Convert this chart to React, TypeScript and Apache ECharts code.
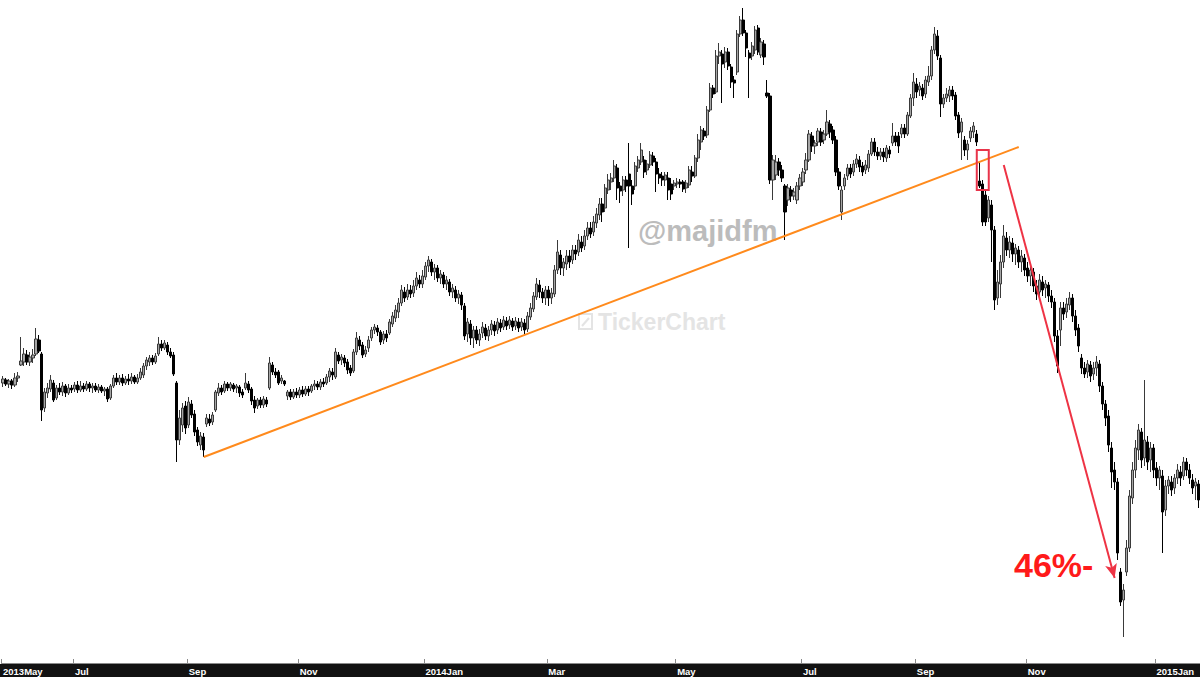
import React, { useEffect, useRef } from "react";
import * as echarts from "echarts";

// Daily candles [open, close, low, high], grouped by the two-month blocks of the time axis
const may2013 = [
  [70.7, 71.1, 70.3, 71.4], [71.0, 70.6, 70.4, 71.2], [70.6, 70.9, 70.2, 71.1], [70.9, 70.5, 70.1, 71.1],
  [70.5, 71.2, 70.3, 71.7], [71.2, 71.4, 70.8, 71.8], [72.5, 72.9, 72.4, 75.3], [72.8, 73.6, 72.4, 74.2],
  [73.5, 72.8, 72.5, 74.0], [72.8, 73.3, 72.4, 73.8], [73.2, 73.5, 72.7, 74.1], [73.6, 75.1, 73.4, 76.2],
  [75.0, 73.9, 73.7, 75.5], [73.6, 68.0, 66.9, 73.8], [68.2, 69.8, 67.8, 70.2], [69.7, 70.2, 69.2, 70.7],
  [70.1, 71.0, 69.8, 71.5], [70.7, 69.0, 68.8, 71.0], [69.2, 70.2, 69.0, 70.5], [70.2, 69.8, 69.5, 70.7],
  [69.8, 70.4, 69.4, 70.8], [70.4, 69.7, 69.3, 70.6], [69.7, 70.2, 69.5, 70.6], [70.2, 70.0, 69.7, 70.5],
];
const jul2013 = [
  [70.1, 70.5, 69.8, 70.8], [70.5, 70.0, 69.7, 70.9], [70.0, 70.4, 69.8, 70.9], [70.4, 70.1, 69.8, 70.7],
  [70.1, 70.6, 69.9, 70.9], [70.6, 70.2, 69.8, 70.8], [70.2, 70.4, 69.7, 70.7], [70.4, 70.0, 69.8, 70.7],
  [70.0, 70.3, 69.7, 70.6], [70.3, 69.9, 69.7, 70.5], [69.9, 70.1, 69.4, 70.3], [70.1, 69.1, 68.8, 70.3],
  [69.2, 70.4, 69.0, 70.6], [70.4, 71.2, 70.2, 71.5], [71.2, 70.8, 70.5, 71.7], [70.8, 71.2, 70.5, 71.5],
  [71.2, 70.7, 70.4, 71.6], [70.7, 71.1, 70.5, 71.4], [71.1, 70.9, 70.5, 71.6], [70.9, 71.3, 70.6, 71.7],
  [71.3, 70.8, 70.6, 71.5], [70.8, 71.2, 70.6, 71.6], [71.2, 71.8, 71.0, 72.2], [71.5, 72.4, 71.2, 72.7],
  [72.4, 73.0, 72.0, 73.3], [72.8, 73.2, 72.4, 73.5], [73.2, 72.8, 72.5, 73.5], [72.8, 73.4, 72.6, 73.7],
  [73.6, 74.6, 73.4, 75.3], [74.6, 74.2, 73.9, 75.0], [74.2, 74.7, 74.0, 75.0], [74.5, 73.8, 73.5, 74.8],
  [73.8, 73.4, 73.2, 74.2], [73.5, 71.6, 71.4, 73.8], [70.7, 65.0, 62.8, 70.9], [65.0, 67.2, 64.5, 68.0],
  [66.5, 68.2, 65.8, 68.7], [68.4, 66.2, 65.6, 68.9],
];
const sep2013 = [
  [66.5, 68.8, 66.2, 69.3], [68.6, 67.5, 67.2, 69.0], [67.6, 65.8, 65.4, 68.0], [66.0, 64.8, 64.4, 66.3],
  [64.5, 65.4, 64.0, 65.8], [65.3, 64.0, 63.3, 65.7], [66.6, 67.2, 66.3, 67.6], [67.1, 66.7, 66.4, 67.6],
  [66.8, 67.5, 66.5, 67.8], [68.0, 69.8, 67.8, 70.0], [69.7, 70.2, 69.4, 70.7], [70.2, 69.8, 69.5, 70.5],
  [69.9, 70.6, 69.7, 70.9], [70.6, 70.2, 69.9, 70.8], [70.2, 70.6, 69.9, 70.8], [70.5, 70.1, 69.8, 70.7],
  [70.2, 70.4, 69.7, 70.6], [70.3, 69.7, 69.3, 70.5], [69.8, 69.5, 69.2, 70.1], [70.2, 70.7, 70.0, 71.7],
  [70.6, 70.0, 69.7, 70.9], [70.1, 68.9, 68.5, 70.3], [69.0, 68.2, 67.7, 69.4], [68.4, 69.0, 68.1, 69.2],
  [69.0, 68.5, 68.2, 69.3], [68.5, 69.1, 68.2, 69.4], [69.0, 68.6, 68.3, 69.3], [70.2, 72.7, 70.0, 73.3],
  [72.5, 71.8, 71.5, 72.8], [71.8, 71.5, 71.2, 72.2], [71.8, 70.7, 70.5, 72.0], [70.9, 71.2, 70.6, 71.5],
  [70.9, 70.6, 70.4, 71.0], [69.4, 69.8, 69.0, 70.0], [69.8, 69.3, 69.0, 70.1], [69.3, 69.8, 69.1, 70.1],
  [69.8, 69.5, 69.2, 70.2],
];
const nov2013 = [
  [69.5, 70.0, 69.2, 70.3], [70.0, 69.6, 69.3, 70.4], [69.6, 70.1, 69.4, 70.4], [70.1, 69.8, 69.4, 70.4],
  [69.9, 70.4, 69.7, 70.6], [70.4, 70.6, 70.0, 71.0], [70.6, 70.3, 70.0, 70.9], [70.3, 70.8, 70.0, 71.1],
  [70.8, 70.6, 70.3, 71.2], [70.7, 71.3, 70.5, 71.6], [71.3, 71.9, 70.8, 72.2], [71.8, 71.5, 71.0, 72.2],
  [71.3, 73.8, 71.1, 74.2], [73.5, 72.9, 72.6, 73.8], [73.0, 73.3, 72.5, 73.6], [73.2, 72.7, 72.3, 73.5],
  [72.8, 72.0, 71.6, 73.1], [72.2, 71.7, 71.4, 72.5], [71.9, 73.8, 71.7, 74.1], [73.8, 75.2, 73.5, 75.8],
  [75.0, 74.4, 74.0, 75.4], [74.5, 73.5, 73.2, 74.8], [73.6, 74.0, 73.3, 74.4], [74.2, 75.0, 73.8, 75.4],
  [75.2, 76.0, 74.9, 76.3], [76.0, 76.3, 75.6, 76.6], [76.2, 75.8, 75.4, 76.5], [75.8, 74.8, 74.5, 76.0],
  [75.0, 75.6, 74.6, 75.9], [75.6, 75.2, 74.8, 76.0], [75.7, 76.8, 75.5, 77.1], [76.6, 77.4, 76.3, 77.8],
  [77.2, 78.0, 76.8, 78.5], [77.8, 78.7, 77.2, 79.2], [78.7, 80.0, 78.4, 80.5], [79.8, 79.2, 78.8, 80.3],
  [79.3, 80.0, 79.0, 80.6], [80.0, 79.6, 79.2, 80.5], [79.7, 80.4, 79.3, 81.0], [80.4, 81.2, 80.0, 81.8],
  [81.0, 80.6, 80.2, 81.5], [80.6, 81.4, 80.2, 82.0],
];
const jan2014 = [
  [81.3, 82.4, 81.0, 82.8], [82.4, 83.0, 81.8, 83.4], [82.8, 81.8, 81.4, 83.1], [81.8, 82.2, 81.0, 82.6],
  [82.2, 81.2, 80.8, 82.5], [81.2, 81.6, 80.6, 82.0], [81.5, 80.6, 80.2, 81.8], [80.6, 81.0, 80.0, 81.4],
  [80.8, 79.8, 79.4, 81.1], [79.8, 80.2, 79.2, 80.6], [80.0, 79.2, 78.8, 80.4], [79.2, 79.6, 78.6, 80.0],
  [79.5, 78.5, 78.0, 79.8], [78.4, 75.4, 75.0, 78.7], [75.6, 76.8, 74.8, 77.2], [76.6, 75.2, 74.5, 77.0],
  [75.2, 76.0, 74.2, 76.4], [76.0, 75.0, 74.6, 76.4], [75.0, 75.6, 74.4, 76.1], [75.7, 76.3, 75.2, 76.8],
  [76.2, 75.4, 75.0, 76.6], [75.4, 76.0, 74.9, 76.4], [76.0, 76.6, 75.5, 77.0], [76.5, 75.9, 75.4, 76.9],
  [76.0, 76.8, 75.6, 77.2], [76.7, 76.2, 75.8, 77.1], [76.3, 77.0, 76.0, 77.4], [76.9, 76.4, 76.0, 77.3],
  [76.5, 77.0, 76.1, 77.4], [76.9, 76.3, 75.9, 77.2], [76.4, 76.9, 76.0, 77.3], [76.8, 76.2, 75.8, 77.2],
  [76.3, 76.8, 75.9, 77.2], [76.7, 76.0, 75.6, 77.1], [76.1, 77.4, 75.8, 77.8], [77.3, 78.2, 77.0, 78.7],
  [78.1, 79.4, 77.8, 79.8], [79.3, 80.6, 79.0, 81.2], [80.5, 79.8, 79.2, 81.0], [79.8, 79.2, 78.7, 80.2],
  [79.2, 80.0, 78.5, 80.4],
];
const mar2014 = [
  [80.0, 79.2, 78.4, 80.4], [79.2, 79.7, 78.6, 80.2], [79.6, 82.0, 79.3, 82.5], [82.0, 83.8, 81.6, 85.0],
  [83.5, 82.2, 81.5, 84.0], [82.2, 82.8, 81.4, 83.2], [82.6, 83.4, 82.0, 84.0], [83.4, 82.8, 82.2, 84.0],
  [83.0, 84.0, 82.6, 84.5], [84.0, 83.6, 83.0, 84.5], [83.8, 85.0, 83.4, 85.6], [84.8, 84.2, 83.8, 85.4],
  [84.4, 85.4, 84.0, 86.0], [85.4, 86.2, 85.0, 86.8], [86.2, 85.6, 85.2, 86.8], [85.8, 86.8, 85.4, 87.4],
  [86.7, 87.6, 86.2, 88.2], [87.5, 88.6, 87.0, 89.2], [88.6, 87.8, 86.8, 89.2], [88.2, 90.2, 87.8, 90.6],
  [90.0, 91.0, 89.6, 91.6], [90.8, 91.2, 90.0, 91.7], [91.2, 92.4, 90.8, 93.0], [92.2, 90.2, 89.0, 92.6],
  [90.4, 89.9, 88.7, 90.8], [90.0, 91.0, 89.4, 91.4], [91.0, 90.4, 89.8, 91.4], [91.6, 90.4, 84.2, 94.7],
  [90.4, 89.6, 88.5, 91.0], [90.4, 92.4, 90.0, 92.8], [92.2, 93.0, 91.8, 93.4], [92.8, 94.0, 92.5, 94.7],
  [93.0, 91.8, 91.2, 93.4], [92.0, 92.6, 91.5, 93.0], [92.5, 93.5, 92.2, 93.9], [93.4, 92.8, 92.4, 93.8],
  [92.8, 91.6, 89.8, 93.2], [91.6, 91.2, 90.6, 92.2], [91.4, 91.0, 90.4, 91.8], [91.0, 91.5, 90.4, 91.8],
  [91.2, 90.0, 89.0, 91.8], [90.6, 89.6, 89.0, 91.2], [90.4, 90.7, 90.0, 91.0],
];
const may2014 = [
  [90.6, 90.8, 90.2, 91.2], [90.8, 90.6, 90.2, 91.1], [90.8, 90.1, 89.8, 91.0], [90.2, 90.7, 89.7, 91.0],
  [90.5, 92.0, 90.2, 92.4], [91.8, 91.4, 90.8, 92.4], [91.4, 93.2, 91.2, 93.5], [93.2, 95.0, 92.8, 95.6],
  [94.8, 96.0, 94.0, 96.4], [95.9, 95.4, 95.0, 96.2], [95.5, 98.0, 95.2, 98.4], [98.0, 100.2, 97.8, 100.7],
  [100.2, 99.6, 99.2, 100.5], [99.8, 103.4, 99.6, 104.0], [103.4, 103.8, 102.6, 104.7], [103.6, 102.6, 98.7, 104.0],
  [102.8, 103.8, 102.2, 104.3], [103.8, 102.4, 102.0, 104.2], [102.3, 100.8, 100.2, 102.6], [101.0, 100.7, 99.2, 101.4],
  [101.8, 105.6, 101.5, 106.0], [105.6, 107.0, 105.3, 107.4], [107.0, 105.7, 105.4, 108.2], [105.7, 104.2, 103.3, 106.0],
  [103.7, 103.2, 99.2, 104.0], [103.4, 104.4, 103.0, 104.8], [104.0, 106.0, 103.6, 106.4], [106.2, 103.8, 103.5, 106.5],
  [103.5, 104.8, 103.2, 105.2], [104.6, 103.3, 102.5, 105.0], [99.7, 99.4, 99.2, 101.0], [99.4, 91.0, 90.6, 99.7],
  [91.0, 93.0, 89.0, 93.5], [91.5, 92.8, 91.0, 93.5], [92.8, 92.0, 91.4, 93.2], [92.0, 91.2, 90.8, 92.5],
  [90.4, 87.8, 85.0, 90.6], [89.0, 90.2, 88.4, 90.6], [90.0, 89.4, 88.8, 90.4], [89.4, 89.8, 89.0, 90.2],
  [89.0, 90.4, 88.6, 90.8], [90.4, 91.2, 90.0, 91.6],
];
const jul2014 = [
  [90.8, 91.8, 90.4, 92.2], [92.0, 93.0, 91.6, 93.7], [93.0, 95.6, 92.8, 96.0], [95.4, 94.4, 93.8, 95.8],
  [94.4, 94.7, 93.6, 95.0], [94.8, 95.9, 94.4, 96.2], [95.8, 94.8, 94.4, 96.2], [95.0, 95.6, 94.6, 96.0],
  [95.6, 96.8, 95.4, 98.0], [96.6, 95.8, 95.2, 97.0], [96.0, 95.0, 94.6, 96.4], [95.0, 91.8, 91.4, 95.4],
  [91.8, 90.4, 90.0, 92.2], [87.8, 90.0, 87.0, 90.4], [90.4, 91.2, 90.0, 91.6], [91.4, 92.2, 91.0, 92.6],
  [92.2, 91.6, 91.2, 92.6], [91.8, 92.6, 91.4, 93.0], [92.6, 93.1, 92.2, 93.6], [93.0, 92.3, 91.8, 93.4],
  [92.4, 91.8, 91.4, 92.8], [92.0, 92.5, 91.6, 93.0], [92.2, 93.6, 91.8, 94.0], [93.6, 94.8, 93.4, 95.2],
  [94.8, 93.8, 93.4, 95.2], [93.8, 93.4, 93.0, 94.3], [93.4, 93.8, 93.0, 94.2], [93.8, 93.3, 92.8, 94.2],
  [93.2, 94.2, 92.8, 94.5], [94.0, 93.6, 93.2, 94.4], [94.7, 95.4, 94.4, 96.7], [95.4, 94.8, 94.4, 95.8],
  [95.4, 94.4, 93.7, 95.8], [95.6, 96.2, 95.2, 96.6], [96.2, 95.6, 95.2, 96.6], [95.6, 97.5, 95.4, 97.8],
  [97.4, 99.2, 97.2, 99.6], [99.2, 100.8, 98.4, 101.7],
];
const sep2014 = [
  [100.6, 99.8, 99.2, 101.2], [100.0, 100.4, 99.4, 100.8], [100.2, 99.4, 99.0, 100.6], [99.6, 101.0, 99.2, 101.4],
  [100.8, 101.4, 100.4, 102.4], [101.4, 104.0, 101.0, 104.4], [104.0, 105.6, 103.6, 106.3], [105.4, 103.4, 103.0, 106.0],
  [103.2, 98.6, 97.3, 103.5], [98.6, 99.2, 98.2, 99.6], [99.2, 99.6, 98.8, 100.2], [99.4, 100.0, 98.8, 100.4],
  [100.0, 99.4, 99.0, 100.4], [99.5, 97.4, 97.0, 99.8], [97.5, 95.7, 95.2, 97.8], [95.8, 96.8, 93.0, 97.2],
  [95.0, 94.0, 93.4, 95.4], [94.0, 94.6, 93.0, 95.0], [95.2, 95.9, 94.8, 96.3], [95.8, 96.4, 95.2, 96.8],
  [95.6, 94.8, 94.4, 96.0], [90.9, 90.4, 90.2, 92.8], [90.6, 86.8, 86.4, 91.0], [89.5, 86.8, 86.4, 90.0],
  [87.2, 89.0, 86.8, 89.4], [88.5, 86.0, 82.8, 89.0], [86.0, 79.0, 78.0, 86.4], [79.2, 80.8, 78.5, 82.0],
  [80.6, 82.8, 79.2, 83.5], [82.8, 85.4, 82.2, 86.5], [85.2, 84.0, 83.4, 85.8], [84.0, 84.8, 83.2, 85.4],
  [84.7, 83.6, 82.8, 85.2], [83.6, 84.2, 82.5, 84.6], [84.0, 82.8, 82.2, 84.4], [82.8, 83.4, 81.8, 84.0],
  [83.2, 82.0, 81.4, 83.6],
];
const nov2014 = [
  [82.2, 81.4, 80.8, 82.8], [81.4, 82.0, 80.4, 82.4], [81.8, 80.4, 79.8, 82.2], [80.4, 79.6, 79.0, 81.0],
  [79.8, 81.0, 79.2, 81.6], [80.8, 80.0, 79.4, 81.4], [80.2, 80.6, 79.2, 81.0], [80.5, 79.4, 78.8, 80.8],
  [79.4, 78.8, 78.2, 80.0], [78.8, 75.4, 74.8, 79.2], [75.4, 72.4, 71.7, 76.0], [76.0, 78.2, 74.4, 78.8],
  [78.2, 77.6, 77.0, 78.8], [77.8, 78.6, 77.2, 79.2], [78.5, 79.2, 78.0, 79.8], [79.2, 77.4, 76.8, 79.6],
  [77.4, 76.0, 75.4, 78.0], [76.2, 74.4, 73.8, 76.6], [73.2, 72.2, 71.6, 73.6], [72.2, 71.6, 71.2, 72.8],
  [71.8, 72.6, 71.2, 73.0], [72.5, 71.4, 70.8, 72.9], [71.6, 72.2, 71.0, 72.8], [72.2, 72.8, 71.4, 73.4],
  [72.6, 70.4, 69.8, 73.0], [70.4, 68.6, 68.0, 70.8], [68.6, 67.2, 66.4, 69.0], [67.4, 64.5, 63.8, 68.0],
  [64.2, 61.8, 60.2, 64.8], [62.0, 60.8, 60.0, 62.8], [60.8, 53.7, 53.0, 61.2], [51.8, 48.8, 48.4, 52.2],
  [49.0, 50.0, 45.3, 50.6], [51.8, 54.2, 51.4, 55.0], [54.2, 59.4, 53.8, 60.0], [59.2, 62.0, 58.6, 62.8],
  [62.0, 64.2, 61.2, 65.0], [64.0, 66.0, 63.0, 66.6], [65.8, 63.0, 62.2, 66.2], [63.2, 65.0, 62.4, 71.0],
  [64.8, 62.8, 62.0, 65.4], [63.0, 64.2, 61.8, 64.8], [64.2, 62.0, 61.2, 64.6],
];
const jan2015 = [
  [62.2, 61.2, 60.4, 62.8], [61.2, 62.0, 60.0, 62.4], [61.4, 57.8, 53.7, 62.0], [58.0, 60.4, 57.4, 61.0],
  [60.4, 61.0, 59.6, 61.4], [60.8, 60.0, 59.4, 61.4], [60.2, 61.2, 59.6, 61.6], [61.2, 62.0, 60.6, 62.6],
  [61.8, 61.2, 60.4, 62.4], [61.4, 62.8, 61.0, 63.3], [62.8, 62.0, 61.4, 63.2], [62.0, 61.2, 60.6, 62.6],
  [61.0, 60.2, 59.6, 61.6], [60.4, 60.8, 59.0, 61.2], [60.6, 59.0, 58.2, 61.0],
];

const segments = [may2013, jul2013, sep2013, nov2013, jan2014, mar2014, may2014, jul2014, sep2014, nov2014, jan2015];
const monthLabels = ["2013May", "Jul", "Sep", "Nov", "2014Jan", "Mar", "May", "Jul", "Sep", "Nov", "2015Jan"];

// Annotation anchors: [candle index, price]
const trendFrom = [67, 63.3];
const trendTo = [339, 94.3];
const arrowFrom = [334, 92.5];
const arrowTo = [371, 51.2];
const boxFrom = [325, 94.0];
const boxTo = [329, 90.0];
const changeText = "46%-";

const Y_MIN = 42.7;
const Y_MAX = 109;

export default function App() {
  const ref = useRef<HTMLDivElement>(null);

  useEffect(() => {
    if (!ref.current) return;
    const chart = echarts.init(ref.current, null, { renderer: "svg" });
    const candles = segments.flat();
    const categories = candles.map((_, i) => String(i));
    const labelAt = new Map<number, string>();
    let start = 0;
    segments.forEach((s, k) => {
      labelAt.set(start, monthLabels[k]);
      start += s.length;
    });
    const showAt = (i: number) => labelAt.has(i);

    chart.setOption({
      animation: false,
      backgroundColor: "#ffffff",
      grid: { left: 0, right: 0, top: 0, bottom: 14 },
      xAxis: {
        type: "category",
        data: categories,
        boundaryGap: true,
        z: 10,
        axisLine: { show: true, lineStyle: { color: "#8a8a8a", width: 1 } },
        axisTick: {
          show: true,
          inside: true,
          length: 4,
          interval: (i: number) => showAt(i),
          lineStyle: { color: "#8a8a8a", width: 1 },
        },
        axisLabel: {
          interval: (i: number) => showAt(i),
          formatter: (_v: string, idx: number) => labelAt.get(idx) ?? "",
          color: "#ffffff",
          fontSize: 9.5,
          fontWeight: "bold",
          fontFamily: "Liberation Sans",
          align: "left",
          margin: 3,
          showMinLabel: true,
        },
        splitLine: { show: false },
      },
      yAxis: { type: "value", min: Y_MIN, max: Y_MAX, show: false, splitLine: { show: false } },
      series: [
        {
          type: "candlestick",
          data: candles,
          barWidth: 2.6,
          z: 3,
          itemStyle: {
            color: "#a6a6a6",
            color0: "#000000",
            borderColor: "#3a3a3a",
            borderColor0: "#000000",
            borderWidth: 1,
          },
          markLine: {
            silent: true,
            symbol: ["none", "none"],
            label: { show: false },
            lineStyle: { type: "solid" },
            data: [
              [
                { coord: trendFrom, lineStyle: { color: "#ff8a1c", width: 2, type: "solid" } },
                { coord: trendTo },
              ],
              [
                { coord: arrowFrom, symbol: "none", lineStyle: { color: "#ee3344", width: 2, type: "solid" } },
                { coord: arrowTo, symbol: "arrow", symbolSize: [9, 14] },
              ],
            ],
          },
        },
      ],
    });

    const p1 = chart.convertToPixel({ seriesIndex: 0 }, boxFrom) as number[];
    const p2 = chart.convertToPixel({ seriesIndex: 0 }, boxTo) as number[];

    chart.setOption({
      graphic: [
        {
          type: "rect",
          left: 0,
          bottom: 0,
          z: 0,
          shape: { width: 1200, height: 13 },
          style: { fill: "#121212" },
        },
        {
          type: "text",
          x: 638,
          y: 231,
          z: 1,
          style: {
            text: "@majidfm",
            fill: "#bcbcbc",
            fontSize: 29,
            fontWeight: "bold",
            fontFamily: "Liberation Sans",
            align: "left",
            verticalAlign: "middle",
          },
        },
        {
          type: "rect",
          x: 579,
          y: 314,
          z: 1,
          shape: { width: 13, height: 15 },
          style: { fill: "none", stroke: "#e4e4e4", lineWidth: 2 },
        },
        {
          type: "polyline",
          z: 1,
          shape: { points: [[582, 326], [589, 318]] },
          style: { stroke: "#e4e4e4", lineWidth: 2 },
        },
        {
          type: "text",
          x: 598,
          y: 322,
          z: 1,
          style: {
            text: "TickerChart",
            fill: "#e4e4e4",
            fontSize: 23,
            fontWeight: "bold",
            fontFamily: "Liberation Sans",
            align: "left",
            verticalAlign: "middle",
          },
        },
        {
          type: "rect",
          z: 20,
          shape: { x: p1[0], y: p1[1], width: p2[0] - p1[0], height: p2[1] - p1[1] },
          style: { fill: "none", stroke: "#e8344a", lineWidth: 2 },
        },
        {
          type: "text",
          x: 1014,
          y: 565,
          z: 20,
          style: {
            text: changeText,
            fill: "#ff1a1a",
            fontSize: 34,
            fontWeight: "bold",
            fontFamily: "Liberation Sans",
            align: "left",
            verticalAlign: "middle",
          },
        },
      ],
    });

    return () => chart.dispose();
  }, []);

  return (
    <div
      ref={ref}
      style={{ position: "absolute", left: 0, top: 0, width: 1200, height: 677, background: "#fff" }}
    />
  );
}
